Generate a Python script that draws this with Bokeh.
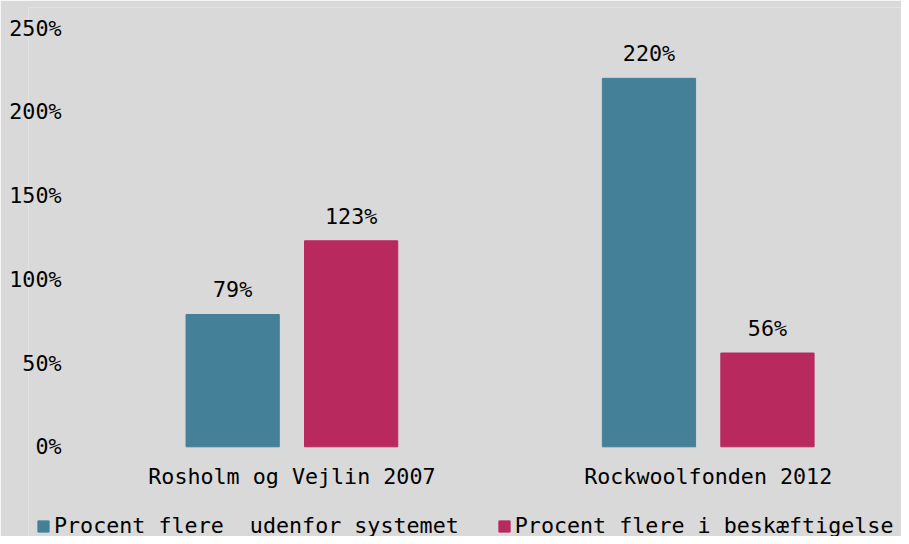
from bokeh.plotting import figure
from bokeh.models import (ColumnDataSource, Range1d, FixedTicker, PrintfTickFormatter,
                          LabelSet, Legend, LegendItem)
from bokeh.core.properties import value
from bokeh.transform import dodge
from bokeh.embed import file_html
from bokeh.resources import INLINE

categories = ["Rosholm og Vejlin 2007", "Rockwoolfonden 2012"]
series_names = ["Procent flere  udenfor systemet", "Procent flere i beskæftigelse"]
udenfor = [79, 220]
beskaeftigelse = [123, 56]
y_ticks = [0, 50, 100, 150, 200, 250]

FONT = "DejaVu Sans Mono"
FS = "21.7px"
BG = "#d9d9d9"
TEAL = "#448199"
MAGENTA = "#b8295d"

xpos = list(range(len(categories)))
src = ColumnDataSource(data=dict(
    x=xpos,
    zero=[0] * len(categories),
    cat=categories,
    a=udenfor,
    b=beskaeftigelse,
    a_lab=[f"{v}%" for v in udenfor],
    b_lab=[f"{v}%" for v in beskaeftigelse],
))

p = figure(width=901, height=536, output_backend="svg", toolbar_location=None,
           x_range=Range1d(-0.6327, 1.4643), y_range=Range1d(-53.55, 262.3),
           background_fill_color=BG, border_fill_color=BG,
           min_border_left=28, min_border_right=0, min_border_top=7,
           min_border_bottom=0, outline_line_color=None)

p.xgrid.visible = False
p.ygrid.visible = False
p.xaxis.visible = False

r1 = p.vbar(x=dodge("x", -0.1423, range=p.x_range), top="a", width=0.224, source=src,
            fill_color=TEAL, line_color=TEAL)
r2 = p.vbar(x=dodge("x", 0.1423, range=p.x_range), top="b", width=0.224, source=src,
            fill_color=MAGENTA, line_color=MAGENTA)

for col, lab, off in (("a", "a_lab", -0.1423), ("b", "b_lab", 0.1423)):
    ls = LabelSet(x=dodge("x", off, range=p.x_range), y=col, text=lab, source=src,
                  text_align="center", text_baseline="middle", y_offset=24.6,
                  text_font=value(FONT), text_font_size=FS, text_color="#000000")
    p.add_layout(ls)

# category labels under the groups
cat_labels = LabelSet(x="x", y="zero", text="cat", source=src,
                      text_align="center", text_baseline="middle", y_offset=-29.6,
                      text_font=value(FONT), text_font_size=FS, text_color="#000000")
p.add_layout(cat_labels)

yax = p.yaxis[0]
yax.ticker = FixedTicker(ticks=y_ticks)
yax.formatter = PrintfTickFormatter(format="%d%%")
yax.axis_line_color = None
yax.major_tick_line_color = None
yax.minor_tick_line_color = None
yax.major_tick_out = 0
yax.major_tick_in = 0
yax.major_label_text_font = FONT
yax.major_label_text_font_size = FS
yax.major_label_text_color = "#000000"
yax.major_label_standoff = -33

legend = Legend(items=[LegendItem(label=series_names[0], renderers=[r1]),
                       LegendItem(label=series_names[1], renderers=[r2])],
                orientation="horizontal", location=(8, -2),
                background_fill_alpha=0, border_line_color=None,
                label_text_font=FONT, label_text_font_size=FS, label_text_color="#000000",
                glyph_width=14, glyph_height=14, label_standoff=4, spacing=38,
                padding=0, margin=0)
p.add_layout(legend, "center")

open("out.html", "w").write(file_html(p, INLINE))
